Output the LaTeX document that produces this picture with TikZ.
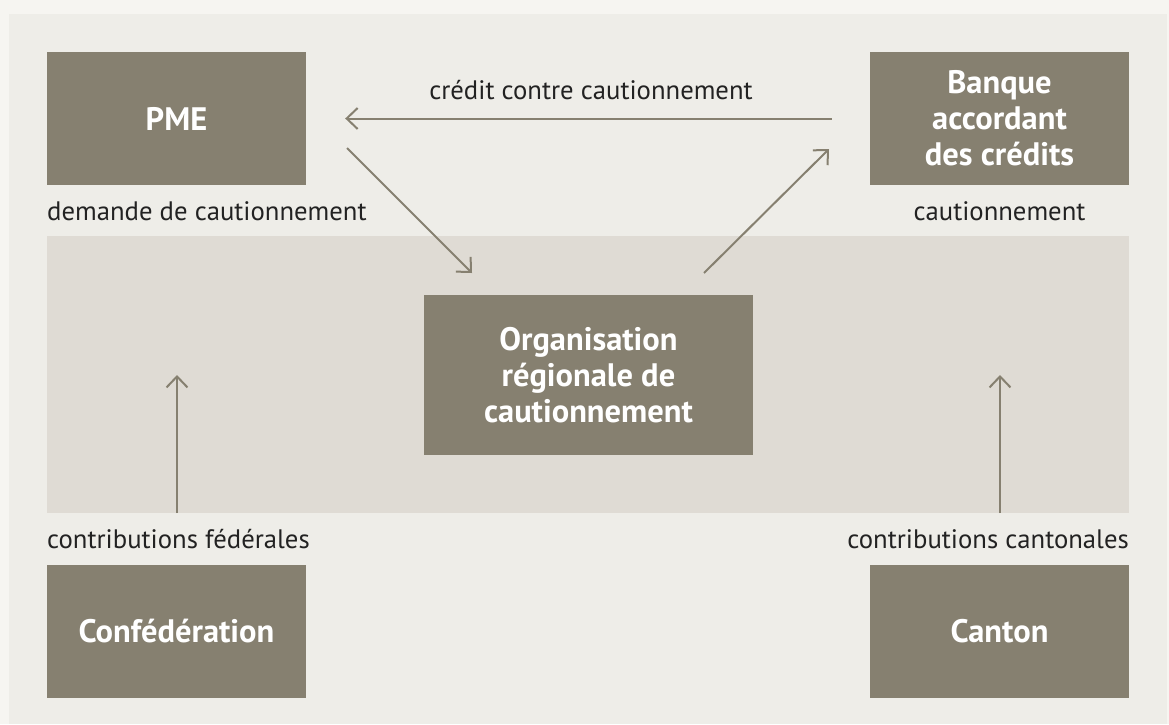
\documentclass[tikz,border=0pt]{standalone}
\usepackage{fontspec}
\setmainfont{PT Sans}
\usetikzlibrary{arrows.meta}
\definecolor{outerbg}{HTML}{F6F5F1}
\definecolor{panelbg}{HTML}{EEEDE8}
\definecolor{bandbg}{HTML}{DFDBD4}
\definecolor{boxfill}{HTML}{868070}
\definecolor{txt}{HTML}{222222}
\tikzset{
  box/.style={fill=boxfill, draw=none, inner sep=0pt, text=white,
    font=\fontsize{32.5}{36}\selectfont\bfseries, align=center},
  lbl/.style={inner sep=0pt, text=txt, font=\fontsize{26.7}{30}\selectfont},
  flow/.style={draw=boxfill, line width=2pt,
    -{Straight Barb[length=11pt,width=21pt,line width=2pt]}}
}
\begin{document}
\begin{tikzpicture}[x=1pt,y=-1pt]
\useasboundingbox (0,0) rectangle (1169,724);
\fill[outerbg] (0,0) rectangle (1169,724);
\fill[panelbg] (9,14) rectangle (1167,724);
\fill[bandbg] (47,236) rectangle (1129,513);
\node[box, minimum width=259pt, minimum height=133pt] (pme) at (176.5,118.5) {PME};
\node[box, minimum width=259pt, minimum height=133pt] (bank) at (999.5,118.5) {Banque\\accordant\\des crédits};
\node[box, minimum width=329pt, minimum height=160pt] (org) at (588.5,375) {Organisation\\régionale de\\cautionnement};
\node[box, minimum width=259pt, minimum height=133pt] (conf) at (176.5,631.5) {Confédération};
\node[box, minimum width=259pt, minimum height=133pt] (cant) at (999.5,631.5) {Canton};
\node[lbl, anchor=base] (l1) at (591,99) {crédit contre cautionnement};
\node[lbl, anchor=base west] (l2) at (47,220) {demande de cautionnement};
\node[lbl, anchor=base] (l3) at (999.5,220) {cautionnement};
\node[lbl, anchor=base west] (l4) at (47,548) {contributions fédérales};
\node[lbl, anchor=base east] (l5) at (1129,548) {contributions cantonales};
\coordinate (d1s) at (347,148);
\coordinate (d1e) at (472,273);
\coordinate (d2s) at (704,273);
\coordinate (d2e) at (829,149);
\coordinate (v1s) at (177,513);
\coordinate (v1e) at (177,375);
\coordinate (v2s) at (1000,513);
\coordinate (v2e) at (1000,375);
\draw[flow, shorten <=38pt, shorten >=39pt] (bank.west) -- (pme.east);
\draw[flow] (d1s) -- (d1e);
\draw[flow] (d2s) -- (d2e);
\draw[flow] (v1s) -- (v1e);
\draw[flow] (v2s) -- (v2e);
\end{tikzpicture}
\end{document}
